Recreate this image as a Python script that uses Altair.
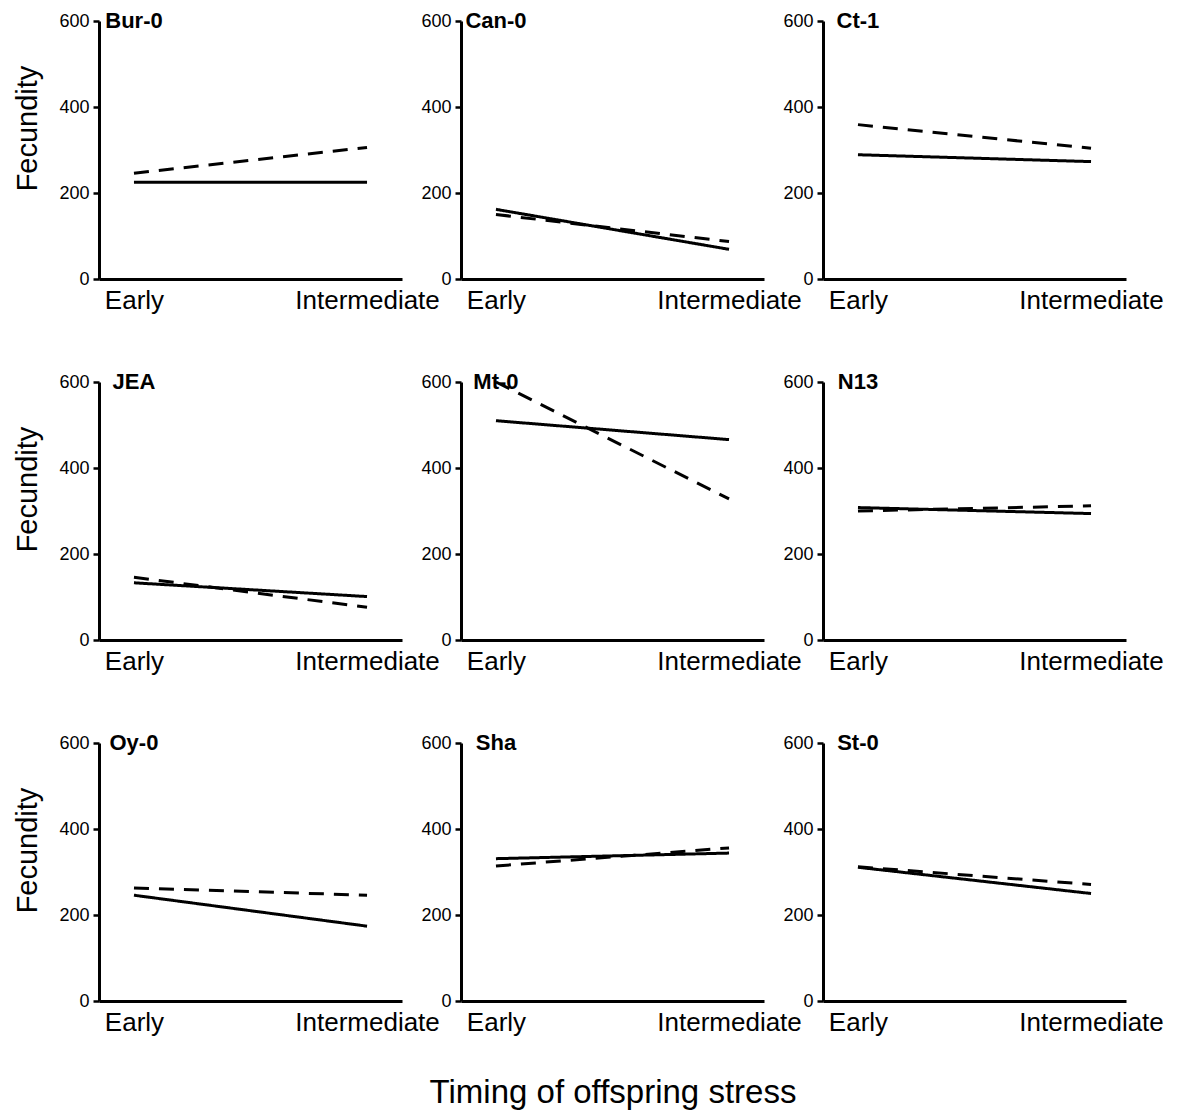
import altair as alt
import pandas as pd

accessions = ["Bur-0", "Can-0", "Ct-1", "JEA", "Mt-0", "N13", "Oy-0", "Sha", "St-0"]
timing = ["Early", "Intermediate"]
treatments = ["Control", "Stress"]

solid_early = [225, 162, 289, 133, 510, 308, 246, 331, 311]
solid_inter = [225, 69, 273, 101, 466, 294, 174, 344, 250]
dashed_early = [246, 150, 359, 146, 600, 300, 263, 314, 312]
dashed_inter = [306, 87, 304, 76, 328, 312, 246, 356, 271]

rows = []
for i, a in enumerate(accessions):
    rows.append({"accession": a, "timing": "Early", "treatment": "Control", "fecundity": solid_early[i]})
    rows.append({"accession": a, "timing": "Intermediate", "treatment": "Control", "fecundity": solid_inter[i]})
    rows.append({"accession": a, "timing": "Early", "treatment": "Stress", "fecundity": dashed_early[i]})
    rows.append({"accession": a, "timing": "Intermediate", "treatment": "Stress", "fecundity": dashed_inter[i]})
df = pd.DataFrame(rows)

FONT = "Liberation Sans"
W, H = 303, 258


def panel(name, col, row):
    d = df[df.accession == name]
    xscale = alt.Scale(type="point", domain=timing, padding=0.15)
    yscale = alt.Scale(domain=[0, 600], nice=False)
    x_axis = alt.Axis(
        title="Timing of offspring stress" if (row == 2 and col == 1) else None,
        ticks=False, labelFontSize=26, labelPadding=8, labelAngle=0,
        titleFontSize=33, titlePadding=41,
    )
    if col == 0:
        y_axis = alt.Axis(values=[0, 200, 400, 600], title="Fecundity",
                          titleFontSize=29, titlePadding=16, titleY=107)
    else:
        y_axis = alt.Axis(values=[0, 200, 400, 600], title=None)
    ln = alt.Chart(d).mark_line(color="black", strokeWidth=3).encode(
        x=alt.X("timing:N", scale=xscale, axis=x_axis),
        y=alt.Y("fecundity:Q", scale=yscale, axis=y_axis),
        strokeDash=alt.StrokeDash("treatment:N",
                                  scale=alt.Scale(domain=treatments, range=[[1, 0], [15, 10]]),
                                  legend=None),
    )
    lab = alt.Chart(pd.DataFrame({"timing": ["Early"], "fecundity": [600], "label": [name]})).mark_text(
        font=FONT, fontSize=22, fontWeight="bold", color="black", align="center", baseline="middle"
    ).encode(
        x=alt.X("timing:N", scale=xscale),
        y=alt.Y("fecundity:Q", scale=yscale),
        text="label:N",
    )
    return alt.layer(ln, lab).properties(width=W, height=H)


panels = [panel(accessions[r * 3 + c], c, r) for r in range(3) for c in range(3)]

chart = alt.concat(*panels, columns=3, spacing={"row": 103, "column": 59}, bounds="flush").properties(
    padding={"left": 5, "top": 2, "right": 5, "bottom": 5}
).configure_axis(
    domainColor="black", domainWidth=3, tickColor="black", tickWidth=2.5, tickSize=6,
    labelFont=FONT, titleFont=FONT, labelColor="black", titleColor="black",
    grid=False, titleFontWeight="normal",
).configure_axisY(
    labelFontSize=18, labelPadding=4,
).configure_view(stroke=None)

chart.save("out.html", embed_options={"renderer": "svg", "actions": False})
